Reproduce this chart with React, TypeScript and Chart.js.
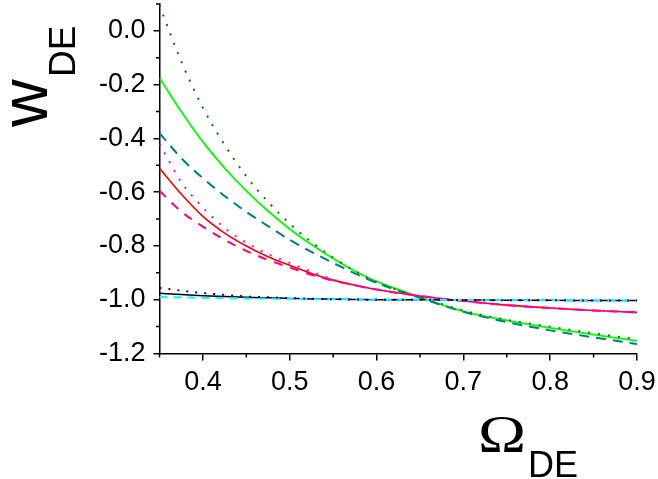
import React, { useEffect, useRef } from 'react';
import { Chart, registerables } from 'chart.js';

Chart.register(...registerables);

// Omega_DE sample positions
const omegaDE = [0.35, 0.375, 0.4, 0.425, 0.45, 0.475, 0.5, 0.525, 0.55, 0.575, 0.6, 0.65, 0.7, 0.75, 0.8, 0.85, 0.9];

// w_DE series
const darkGreenDotted = [0.095, -0.113, -0.286, -0.424, -0.541, -0.636, -0.717, -0.785, -0.843, -0.893, -0.935, -0.99, -1.04, -1.075, -1.1, -1.125, -1.147];
const greenSolid = [-0.175, -0.3, -0.413, -0.51, -0.595, -0.67, -0.737, -0.795, -0.847, -0.893, -0.932, -0.99, -1.043, -1.077, -1.105, -1.13, -1.153];
const tealDashed = [-0.38, -0.473, -0.548, -0.614, -0.673, -0.726, -0.777, -0.822, -0.863, -0.902, -0.937, -0.993, -1.045, -1.083, -1.114, -1.14, -1.165];
const magentaDotted = [-0.42, -0.562, -0.657, -0.733, -0.788, -0.83, -0.863, -0.895, -0.925, -0.946, -0.962, -0.986, -1.005, -1.02, -1.031, -1.04, -1.047];
const redSolid = [-0.511, -0.607, -0.69, -0.752, -0.8, -0.84, -0.872, -0.902, -0.927, -0.946, -0.962, -0.986, -1.005, -1.02, -1.031, -1.04, -1.047];
const pinkDashed = [-0.595, -0.672, -0.728, -0.777, -0.818, -0.852, -0.88, -0.907, -0.929, -0.946, -0.962, -0.986, -1.005, -1.02, -1.031, -1.04, -1.047];
const blackSolid = [-0.976, -0.981, -0.985, -0.988, -0.991, -0.993, -0.995, -0.997, -0.998, -0.999, -1.0, -1.0, -1.001, -1.002, -1.002, -1.003, -1.003];
const blueDotted = [-0.956, -0.966, -0.975, -0.982, -0.988, -0.991, -0.994, -0.996, -0.998, -0.999, -1.0, -1.0, -1.001, -1.002, -1.002, -1.003, -1.003];
const cyanDashed = [-0.99, -0.991, -0.993, -0.994, -0.995, -0.996, -0.997, -0.998, -0.998, -0.999, -0.999, -1.0, -1.001, -1.002, -1.002, -1.003, -1.003];

// ticks
const xTickValues = [0.4, 0.5, 0.6, 0.7, 0.8, 0.9];
const xMinorTicks = [0.35, 0.45, 0.55, 0.65, 0.75, 0.85];
const yTickValues = [-1.2, -1.0, -0.8, -0.6, -0.4, -0.2, 0.0];
const yMinorTicks = [-1.1, -0.9, -0.7, -0.5, -0.3, -0.1, 0.1];

const pts = (ys: number[]) => omegaDE.map((x, i) => ({ x, y: ys[i] }));

export default function App() {
  const ref = useRef<HTMLCanvasElement | null>(null);

  useEffect(() => {
    if (!ref.current) return;

    const extras = {
      id: 'extras',
      afterDraw(chart: any) {
        const ctx = chart.ctx;
        const xs = chart.scales.x;
        const ys = chart.scales.y;
        const area = chart.chartArea;
        ctx.save();
        ctx.strokeStyle = '#000';
        ctx.lineWidth = 1.5;
        ctx.beginPath();
        xMinorTicks.forEach((v) => {
          const px = xs.getPixelForValue(v);
          ctx.moveTo(px, area.bottom);
          ctx.lineTo(px, area.bottom + 4);
        });
        yMinorTicks.forEach((v) => {
          const py = ys.getPixelForValue(v);
          ctx.moveTo(area.left, py);
          ctx.lineTo(area.left - 3.5, py);
        });
        ctx.stroke();

        ctx.fillStyle = '#000';
        ctx.textAlign = 'left';
        ctx.textBaseline = 'alphabetic';
        // y title: w_DE (rotated)
        ctx.save();
        ctx.translate(46.5, 127);
        ctx.rotate(-Math.PI / 2);
        ctx.font = '66px "Liberation Sans", Arial, sans-serif';
        ctx.fillText('w', 0, 0);
        ctx.restore();
        ctx.save();
        ctx.translate(75, 77);
        ctx.rotate(-Math.PI / 2);
        ctx.font = '37px "Liberation Sans", Arial, sans-serif';
        ctx.fillText('DE', 0, 0);
        ctx.restore();
        // x title: Omega_DE
        ctx.save();
        ctx.translate(478, 452);
        ctx.scale(1.22, 1);
        ctx.font = '53px "Liberation Serif", "Times New Roman", serif';
        ctx.fillText('Ω', 0, 0);
        ctx.restore();
        ctx.font = '36px "Liberation Sans", Arial, sans-serif';
        ctx.fillText('DE', 528, 477);
        ctx.restore();
      },
    };

    const tickFont = { family: '"Liberation Sans", Arial, sans-serif', size: 27 };

    const chart = new Chart(ref.current, {
      type: 'line',
      data: {
        datasets: [
          { data: pts(blueDotted), borderColor: '#0000CC', borderWidth: 2, borderDash: [2, 7] },
          { data: pts(cyanDashed), borderColor: '#00FFFF', borderWidth: 2, borderDash: [8, 6] },
          { data: pts(blackSolid), borderColor: '#000000', borderWidth: 1.5 },
          { data: pts(magentaDotted), borderColor: '#FF00FF', borderWidth: 2, borderDash: [2, 8] },
          { data: pts(pinkDashed), borderColor: '#FF0080', borderWidth: 2, borderDash: [9, 8] },
          { data: pts(redSolid), borderColor: '#FF0000', borderWidth: 1.6 },
          { data: pts(darkGreenDotted), borderColor: '#007F00', borderWidth: 2, borderDash: [2, 8] },
          { data: pts(tealDashed), borderColor: '#008080', borderWidth: 2, borderDash: [10, 7] },
          { data: pts(greenSolid), borderColor: '#00FF00', borderWidth: 1.8 },
        ].map((d) => ({ ...d, pointRadius: 0, fill: false, cubicInterpolationMode: 'monotone' as const })),
      },
      options: {
        animation: false,
        responsive: false,
        devicePixelRatio: 1,
        layout: { padding: { left: 0, right: 21, top: 4, bottom: 0 } },
        plugins: { legend: { display: false }, tooltip: { enabled: false } },
        scales: {
          x: {
            type: 'linear',
            min: 0.35,
            max: 0.9,
            afterBuildTicks: (s: any) => {
              s.ticks = xTickValues.map((v) => ({ value: v }));
            },
            afterFit: (s: any) => {
              s.height = 125.5;
              s.paddingLeft = 0;
              s.paddingRight = 0;
              s.paddingTop = 0;
              s.paddingBottom = 0;
            },
            ticks: {
              color: '#000',
              font: tickFont,
              padding: 6,
              maxRotation: 0,
              autoSkip: false,
              callback: (v: any) => Number(v).toFixed(1),
            },
            grid: { display: true, drawOnChartArea: false, drawTicks: true, tickLength: 7, color: '#000', lineWidth: 1.5 },
            border: { display: true, color: '#000', width: 1.5 },
          },
          y: {
            type: 'linear',
            min: -1.2,
            max: 0.1,
            afterBuildTicks: (s: any) => {
              s.ticks = yTickValues.map((v) => ({ value: v }));
            },
            afterFit: (s: any) => {
              s.width = 159.5;
              s.paddingLeft = 0;
              s.paddingRight = 0;
              s.paddingTop = 0;
              s.paddingBottom = 0;
            },
            ticks: {
              color: '#000',
              font: tickFont,
              padding: 8,
              autoSkip: false,
              callback: (v: any) => Number(v).toFixed(1),
            },
            grid: { display: true, drawOnChartArea: false, drawTicks: true, tickLength: 6, color: '#000', lineWidth: 1.5 },
            border: { display: true, color: '#000', width: 1.5 },
          },
        },
      },
      plugins: [extras],
    });

    return () => chart.destroy();
  }, []);

  return (
    <div style={{ position: 'absolute', left: 0, top: 0, width: 658, height: 479, background: '#fff' }}>
      <canvas ref={ref} width={658} height={479} />
    </div>
  );
}
